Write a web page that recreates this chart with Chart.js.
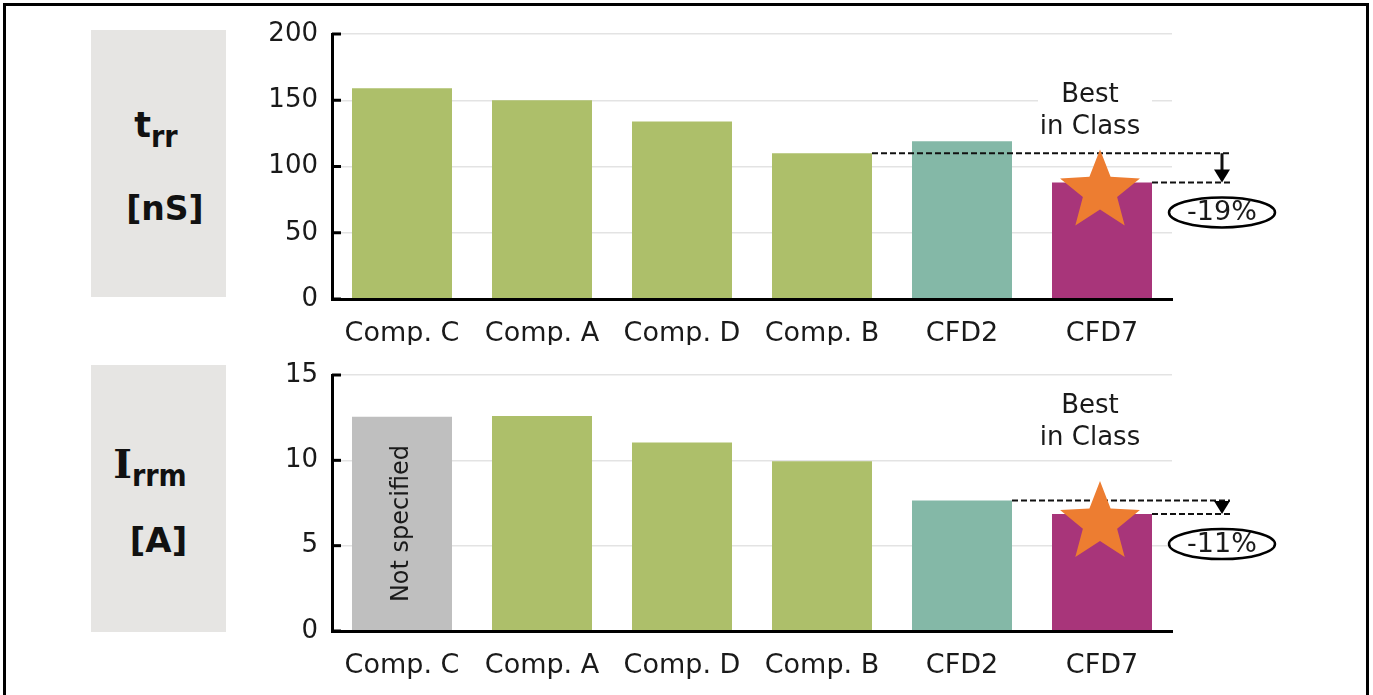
<!DOCTYPE html>
<html>
<head>
<meta charset="utf-8">
<script src="https://cdn.jsdelivr.net/npm/chart.js@4.4.1/dist/chart.umd.min.js"></script>
<style>
  body { margin: 0; background: #fff; font-family: "DejaVu Sans", sans-serif; }
  #page { position: relative; width: 1373px; height: 695px; overflow: hidden; }
  #frame { position: absolute; left: 3px; top: 3px; width: 1366px; height: 720px; box-sizing: border-box; border: 3px solid #000; }
  .box { position: absolute; left: 91px; width: 135px; height: 267px; background: #e6e5e3; }
  .lbl { position: absolute; left: 91px; width: 135px; text-align: center; font-weight: bold; color: #111; white-space: nowrap; box-sizing: border-box; }
  .sub { font-family: "DejaVu Sans Condensed", "DejaVu Sans", sans-serif; font-stretch: condensed; font-size: 30px; position: relative; top: 10px; }
  canvas { position: absolute; left: 0; }
</style>
</head>
<body>
<div id="page">
  <div id="frame"></div>
  <div class="box" style="top:30px"></div>
  <div class="box" style="top:365px"></div>
  <div class="lbl" style="top:108px;font-size:35px;line-height:35px;padding-right:5px">t<span class="sub">rr</span></div>
  <div class="lbl" style="top:192px;font-size:33px;line-height:33px;padding-left:13px">[nS]</div>
  <div class="lbl" style="top:444px;font-size:40px;line-height:40px;padding-right:17px"><span style="font-family:'DejaVu Serif',serif">I</span><span class="sub" style="top:8px">rrm</span></div>
  <div class="lbl" style="top:523px;font-size:34px;line-height:34px">[A]</div>
  <canvas id="chartTrr" width="1373" height="345" style="top:0"></canvas>
  <canvas id="chartIrrm" width="1373" height="350" style="top:345px"></canvas>
</div>
<script>
// data
const categories = ['Comp. C', 'Comp. A', 'Comp. D', 'Comp. B', 'CFD2', 'CFD7'];
const trrValues = [159, 150, 134, 110, 119, 88];
const irrmValues = [12.55, 12.6, 11.05, 9.95, 7.65, 6.85];
const trrTicks = { min: 0, max: 200, step: 50 };
const irrmTicks = { min: 0, max: 15, step: 5 };
const trrColors = ['#adbf6a', '#adbf6a', '#adbf6a', '#adbf6a', '#84b8a7', '#a8357a'];
const irrmColors = ['#bfbfbf', '#adbf6a', '#adbf6a', '#adbf6a', '#84b8a7', '#a8357a'];
const trrNote = { ref: 3, best: 5, text: '-19%', labelAt: [154, 129.8] };
const irrmNote = { ref: 4, best: 5, text: '-11%', labelAt: [13.18, 11.3] };
const bestLabel = ['Best', 'in Class'];
const barText = { index: 0, text: 'Not specified' };

Chart.defaults.font.family = '"DejaVu Sans", sans-serif';
Chart.defaults.color = '#1a1a1a';

function drawStar(ctx, cx, cy, R, r) {
    ctx.beginPath();
    for (let i = 0; i < 10; i++) {
        const a = -Math.PI / 2 + i * Math.PI / 5;
        const rad = i % 2 ? r : R;
        ctx.lineTo(cx + rad * Math.cos(a), cy + rad * Math.sin(a));
    }
    ctx.closePath();
    ctx.fill();
}

// inner tick marks, dashed comparison lines, arrow, percent ellipse, star, texts
const annotate = {
    id: 'annotate',
    afterDatasetsDraw(chart, args, opts) {
        const ctx = chart.ctx;
        const area = chart.chartArea;
        const ys = chart.scales.y;
        const bars = chart.getDatasetMeta(0).data;
        const vals = chart.data.datasets[0].data;
        ctx.save();

        // tick marks inside the axis
        ctx.strokeStyle = '#000';
        ctx.lineWidth = 3;
        ys.ticks.forEach(t => {
            const py = ys.getPixelForValue(t.value);
            ctx.beginPath();
            ctx.moveTo(area.left, py);
            ctx.lineTo(area.left + 9, py);
            ctx.stroke();
        });

        const note = opts.note;
        const refBar = bars[note.ref];
        const bestBar = bars[note.best];
        const y1 = ys.getPixelForValue(vals[note.ref]);
        const y2 = ys.getPixelForValue(vals[note.best]);
        const xEnd = area.right + 58;
        const xArrow = area.right + 50;

        ctx.setLineDash([6, 3]);
        ctx.lineWidth = 2;
        ctx.strokeStyle = '#111';
        ctx.beginPath();
        ctx.moveTo(refBar.x + refBar.width / 2, y1);
        ctx.lineTo(xEnd, y1);
        ctx.moveTo(bestBar.x + bestBar.width / 2, y2);
        ctx.lineTo(xEnd, y2);
        ctx.stroke();
        ctx.setLineDash([]);

        // arrow down
        const head = Math.min(13, y2 - y1);
        ctx.lineWidth = 3;
        if (y2 - y1 > head + 1) {
            ctx.beginPath();
            ctx.moveTo(xArrow, y1);
            ctx.lineTo(xArrow, y2 - head + 1);
            ctx.stroke();
        }
        ctx.fillStyle = '#000';
        ctx.beginPath();
        ctx.moveTo(xArrow - 8, y2 - head);
        ctx.lineTo(xArrow + 8, y2 - head);
        ctx.lineTo(xArrow, y2);
        ctx.closePath();
        ctx.fill();

        // ellipse with percent
        const ey = y2 + 30;
        ctx.fillStyle = '#fff';
        ctx.strokeStyle = '#000';
        ctx.lineWidth = 2.5;
        ctx.beginPath();
        ctx.ellipse(xArrow, ey, 53, 15, 0, 0, Math.PI * 2);
        ctx.fill();
        ctx.stroke();
        ctx.fillStyle = '#1a1a1a';
        ctx.font = '27px "DejaVu Sans"';
        ctx.textAlign = 'center';
        ctx.textBaseline = 'middle';
        ctx.fillText(note.text, xArrow, ey + 1);

        // star on the best bar
        ctx.fillStyle = '#ed7d31';
        drawStar(ctx, bestBar.x - 2, y2 + 9, 42, 18);

        // "Best in Class"
        ctx.font = '26px "DejaVu Sans"';
        const tx = bestBar.x - 12;
        const l1 = ys.getPixelForValue(note.labelAt[0]);
        const l2 = ys.getPixelForValue(note.labelAt[1]);
        ctx.fillStyle = '#fff';
        ctx.fillRect(tx - 52, l1 - 16, 114, l2 - l1 + 32);
        ctx.fillStyle = '#1a1a1a';
        ctx.fillText(bestLabel[0], tx, l1);
        ctx.fillText(bestLabel[1], tx, l2);

        // rotated text inside a bar
        if (opts.barText) {
            const b = bars[opts.barText.index];
            ctx.font = '24px "DejaVu Sans"';
            ctx.save();
            ctx.translate(b.x, (b.y + b.base) / 2);
            ctx.rotate(-Math.PI / 2);
            ctx.fillText(opts.barText.text, 0, 0);
            ctx.restore();
        }
        ctx.restore();
    }
};

function makeChart(id, values, colors, ticks, note, padTop, xHeight, inner) {
    return new Chart(document.getElementById(id), {
        type: 'bar',
        data: {
            labels: categories,
            datasets: [{
                data: values,
                backgroundColor: colors,
                borderWidth: 0,
                categoryPercentage: 1,
                barPercentage: 100 / 140
            }]
        },
        options: {
            responsive: false,
            devicePixelRatio: 1,
            animation: false,
            layout: { padding: { top: padTop, left: 0, right: 201, bottom: 0 } },
            plugins: {
                legend: { display: false },
                tooltip: { enabled: false },
                annotate: { note: note, barText: inner }
            },
            scales: {
                x: {
                    grid: { display: false, drawTicks: false },
                    border: { display: true, color: '#000', width: 3, z: 1 },
                    ticks: { font: { size: 27 }, padding: 19, color: '#1a1a1a' },
                    afterFit: s => { s.height = xHeight; }
                },
                y: {
                    min: ticks.min,
                    max: ticks.max,
                    grid: { color: '#e3e3e3', lineWidth: 1.5, drawTicks: false },
                    border: { display: true, color: '#000', width: 3, z: 1 },
                    ticks: { stepSize: ticks.step, font: { size: 26 }, padding: 14, color: '#1a1a1a' },
                    afterFit: s => { s.width = 332; }
                }
            }
        },
        plugins: [annotate]
    });
}

makeChart('chartTrr', trrValues, trrColors, trrTicks, trrNote, 34, 46, null);
makeChart('chartIrrm', irrmValues, irrmColors, irrmTicks, irrmNote, 30, 64, barText);
</script>
</body>
</html>
